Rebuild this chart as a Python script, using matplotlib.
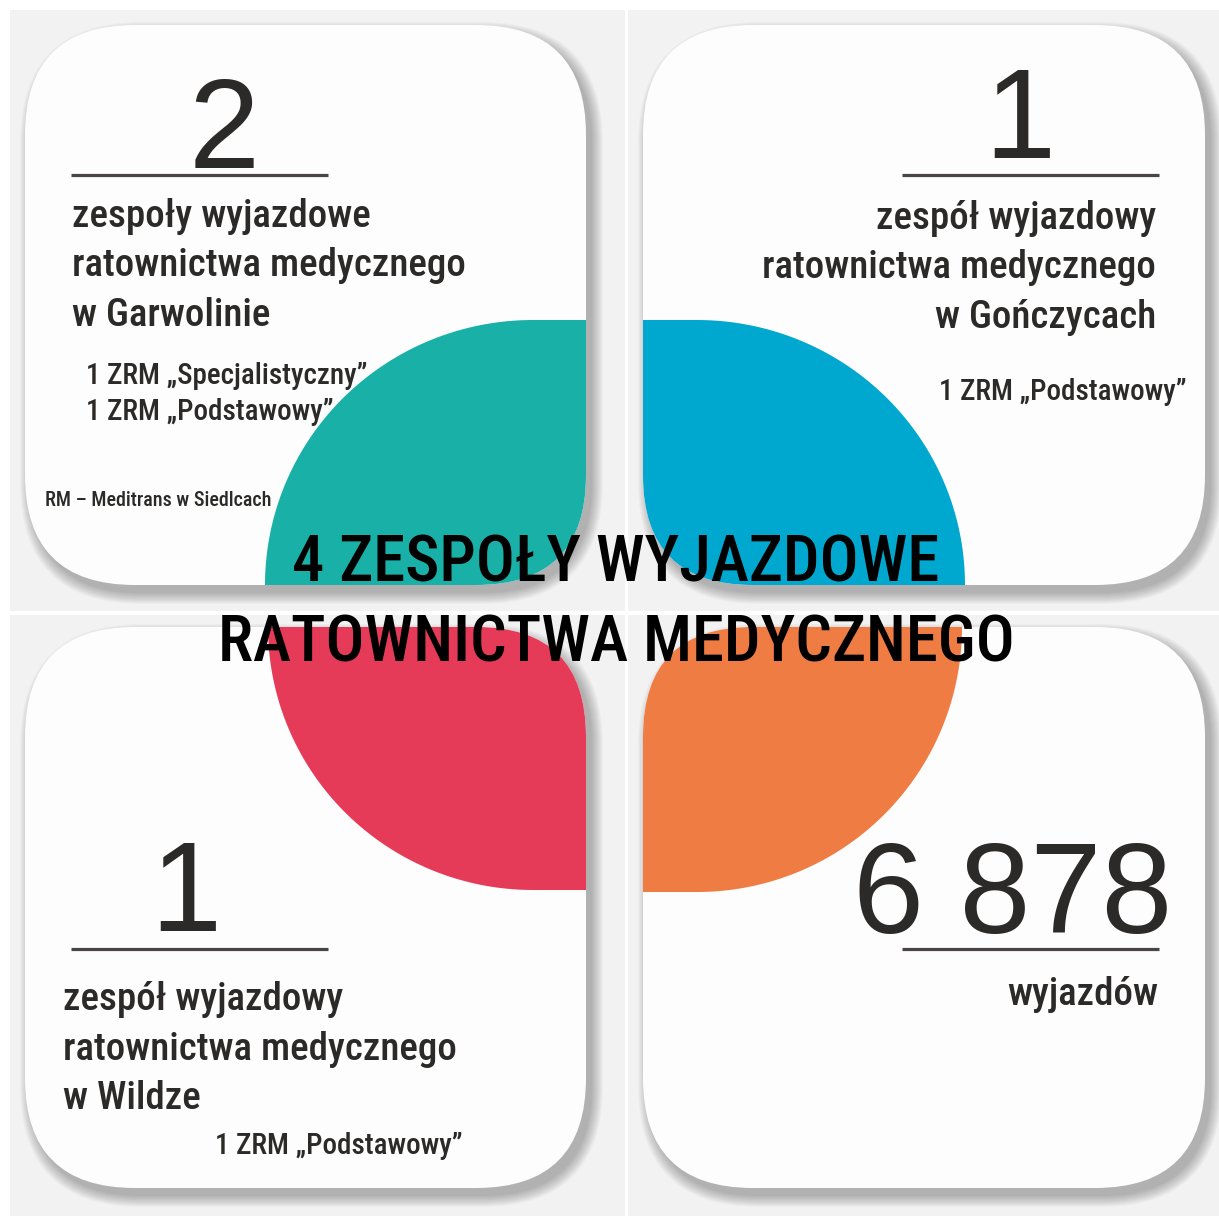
import numpy as np
import matplotlib
matplotlib.use("Agg")
import matplotlib.pyplot as plt
from matplotlib.patches import FancyBboxPatch, PathPatch, Rectangle
from matplotlib.path import Path

# ---------------- data ----------------
counts = ["2", "1", "1", "6 878"]
descriptions = [
    ["zespoły wyjazdowe", "ratownictwa medycznego", "w Garwolinie"],
    ["zespół wyjazdowy", "ratownictwa medycznego", "w Gończycach"],
    ["zespół wyjazdowy", "ratownictwa medycznego", "w Wildze"],
    ["wyjazdów"],
]
units = [
    ["1 ZRM „Specjalistyczny”", "1 ZRM „Podstawowy”"],
    ["1 ZRM „Podstawowy”"],
    ["1 ZRM „Podstawowy”"],
    [],
]
operator_note = "RM – Meditrans w Siedlcach"
title_lines = ["4 ZESPOŁY WYJAZDOWE", "RATOWNICTWA MEDYCZNEGO"]
petal_colors = ["#19b0a8", "#00a8cf", "#e63b58", "#ee7c43"]

# ---------------- style / layout ----------------
W, H = 1219, 1216
COND = ["Roboto Condensed", "DejaVu Sans"]
NUMF = ["Liberation Sans", "DejaVu Sans"]
TXT = "#2b2a29"
LINE_C = "#4a4446"
PANEL_C = "#f3f2f2"
CARD_C = "#fdfdfd"
R = 110

fig = plt.figure(figsize=(W / 100, H / 100), dpi=100)
fig.patch.set_facecolor("white")
ax = fig.add_axes([0, 0, 1, 1])
ax.set_xlim(0, W)
ax.set_ylim(H, 0)
ax.axis("off")

# background panels
panels = [(10, 10, 625, 611), (628, 10, W, 611), (10, 615, 625, H), (628, 615, W, H)]
for x0, y0, x1, y1 in panels:
    ax.add_patch(Rectangle((x0, y0), x1 - x0, y1 - y0, facecolor=PANEL_C, edgecolor="none", zorder=0))

cards = [(25, 25, 586, 585), (643, 25, 1205, 585), (25, 627, 586, 1188), (643, 627, 1205, 1188)]

# shadows
for x0, y0, x1, y1 in cards:
    for i in range(12):
        e = i * 1.0
        ax.add_patch(FancyBboxPatch((x0 + 6 - e, y0 + 8 - e), (x1 - x0) + 2 * e, (y1 - y0) + 2 * e,
                                    boxstyle=f"round,pad=0,rounding_size={R + e}",
                                    facecolor="black", edgecolor="none", alpha=0.024, zorder=1))

card_patches = []
for x0, y0, x1, y1 in cards:
    p = FancyBboxPatch((x0, y0), x1 - x0, y1 - y0, boxstyle=f"round,pad=0,rounding_size={R}",
                       facecolor=CARD_C, edgecolor="none", zorder=2)
    ax.add_patch(p)
    card_patches.append(p)

# petals
def petal_path(cx, cy, sx, sy, w, h, rx):
    ecx = cx + sx * (w - rx)
    t = np.linspace(0, np.pi / 2, 80)
    xs = ecx + sx * rx * np.cos(t)
    ys = cy + sy * h * np.sin(t)
    verts = list(zip(xs, ys)) + [(cx, cy + sy * h), (cx, cy), (xs[0], ys[0])]
    codes = [Path.MOVETO] + [Path.LINETO] * (len(verts) - 2) + [Path.CLOSEPOLY]
    return Path(verts, codes)

petal_geom = [
    (586, 585, -1, -1, 321, 265, 268),
    (643, 585, 1, -1, 322, 265, 268),
    (586, 627, -1, 1, 318, 263, 265),
    (643, 627, 1, 1, 319, 265, 265),
]
for geom, col, cp in zip(petal_geom, petal_colors, card_patches):
    pp = PathPatch(petal_path(*geom), facecolor=col, edgecolor="none", zorder=3)
    ax.add_patch(pp)
    pp.set_clip_path(cp)

# big numbers + underlines
num_pos = [(224, 168, "center"), (1020, 158, "center"), (186, 931, "center"), (1172, 933, "right")]
rules = [(71, 328, 175), (902, 1159, 175), (71, 328, 949), (902, 1159, 949)]
for s, (x, y, ha), (rx0, rx1, ry) in zip(counts, num_pos, rules):
    ax.text(x, y, s, fontsize=92, family=NUMF, color=TXT, ha=ha, va="baseline", zorder=5)
    ax.plot([rx0, rx1], [ry, ry], color=LINE_C, lw=2.3, solid_capstyle="butt", zorder=5)

# description texts
desc_pos = [(72, 227, "left"), (1156, 229, "right"), (63, 1010, "left"), (1158, 1005, "right")]
for lines, (x, y, ha) in zip(descriptions, desc_pos):
    for k, s in enumerate(lines):
        ax.text(x, y + k * 49.5, s, fontsize=28.1, family=COND, weight="medium", color=TXT,
                ha=ha, va="baseline", zorder=5)

# unit texts
unit_pos = [(86, 384, "left"), (1187, 400, "right"), (463, 1154, "right"), (0, 0, "left")]
for lines, (x, y, ha) in zip(units, unit_pos):
    for k, s in enumerate(lines):
        ax.text(x, y + k * 36, s, fontsize=20.9, family=COND, weight="medium", color=TXT,
                ha=ha, va="baseline", zorder=5)

ax.text(45, 506, operator_note, fontsize=14.4, family=COND, weight="medium", color=TXT,
        ha="left", va="baseline", zorder=5)

# title
for k, s in enumerate(title_lines):
    ax.text(616, 581 + k * 81, s, fontsize=46.5, family=COND, weight="medium", color="black",
            ha="center", va="baseline", zorder=6)

fig.savefig("out.png", dpi=100)
